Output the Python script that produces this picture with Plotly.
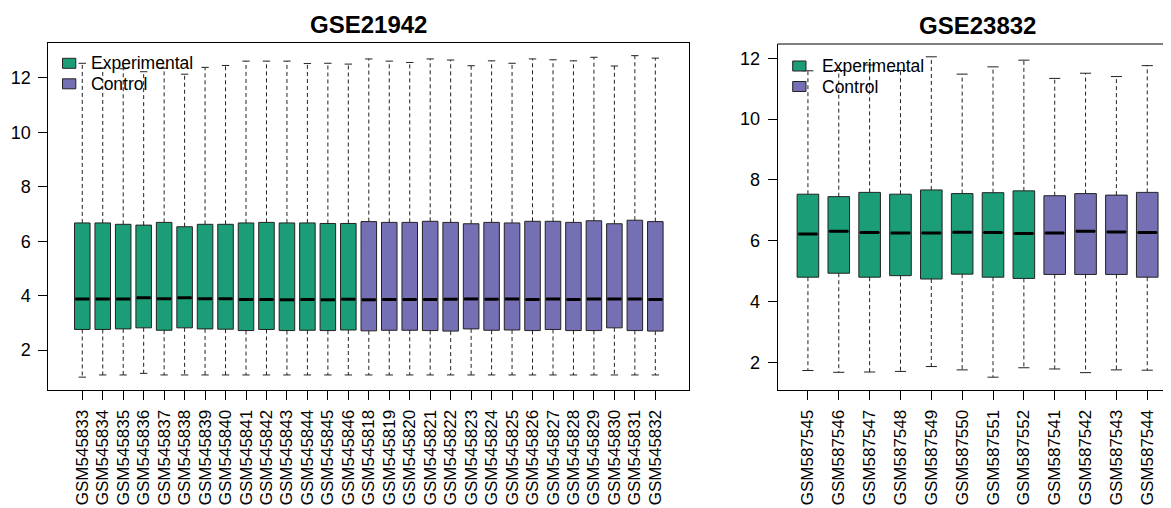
import plotly.graph_objects as go

# The page body has an 8px margin, so the figure is made 8px smaller and every
# pixel position below is given in window coordinates, then shifted.
WIN_W, WIN_H = 1171, 508
OFF = 8
W, H = WIN_W - OFF, WIN_H - OFF

# ---------------- data ----------------
gse1_title = "GSE21942"
gse1_samples = ["GSM545833", "GSM545834", "GSM545835", "GSM545836", "GSM545837",
                "GSM545838", "GSM545839", "GSM545840", "GSM545841", "GSM545842",
                "GSM545843", "GSM545844", "GSM545845", "GSM545846", "GSM545818",
                "GSM545819", "GSM545820", "GSM545821", "GSM545822", "GSM545823",
                "GSM545824", "GSM545825", "GSM545826", "GSM545827", "GSM545828",
                "GSM545829", "GSM545830", "GSM545831", "GSM545832"]
gse1_group = ["Experimental"] * 14 + ["Control"] * 15
gse1_upper = [12.53, 12.36, 12.33, 12.22, 12.35, 12.13, 12.38, 12.45, 12.61, 12.61,
              12.61, 12.52, 12.53, 12.50, 12.69, 12.61, 12.56, 12.69, 12.65, 12.44,
              12.62, 12.53, 12.69, 12.66, 12.62, 12.75, 12.43, 12.81, 12.72]
gse1_q3 = [6.67, 6.67, 6.62, 6.59, 6.69, 6.53, 6.62, 6.62, 6.67, 6.69,
           6.67, 6.67, 6.65, 6.65, 6.72, 6.69, 6.69, 6.73, 6.69, 6.64,
           6.69, 6.67, 6.73, 6.73, 6.69, 6.75, 6.64, 6.77, 6.72]
gse1_median = [3.88, 3.88, 3.88, 3.92, 3.89, 3.92, 3.89, 3.89, 3.86, 3.86,
               3.85, 3.86, 3.85, 3.87, 3.85, 3.86, 3.86, 3.86, 3.87, 3.88,
               3.87, 3.88, 3.86, 3.88, 3.86, 3.88, 3.88, 3.88, 3.86]
gse1_q1 = [2.76, 2.76, 2.78, 2.82, 2.73, 2.82, 2.78, 2.77, 2.72, 2.76,
           2.72, 2.73, 2.72, 2.74, 2.71, 2.73, 2.73, 2.72, 2.70, 2.78,
           2.73, 2.74, 2.72, 2.76, 2.72, 2.72, 2.82, 2.72, 2.70]
gse1_lower = [1.01, 1.09, 1.09, 1.15, 1.09, 1.09, 1.09, 1.09, 1.09, 1.09,
              1.09, 1.09, 1.09, 1.09, 1.09, 1.09, 1.09, 1.09, 1.09, 1.09,
              1.09, 1.09, 1.09, 1.09, 1.09, 1.09, 1.09, 1.09, 1.09]

gse2_title = "GSE23832"
gse2_samples = ["GSM587545", "GSM587546", "GSM587547", "GSM587548", "GSM587549",
                "GSM587550", "GSM587551", "GSM587552", "GSM587541", "GSM587542",
                "GSM587543", "GSM587544"]
gse2_group = ["Experimental"] * 8 + ["Control"] * 4
gse2_upper = [11.59, 11.60, 11.78, 11.60, 12.05, 11.48, 11.72, 11.94, 11.34, 11.51, 11.40, 11.76]
gse2_q3 = [7.53, 7.45, 7.59, 7.53, 7.67, 7.55, 7.58, 7.64, 7.48, 7.55, 7.50, 7.59]
gse2_median = [6.22, 6.31, 6.27, 6.25, 6.25, 6.28, 6.27, 6.24, 6.25, 6.31, 6.29, 6.27]
gse2_q1 = [4.80, 4.93, 4.80, 4.85, 4.74, 4.90, 4.80, 4.76, 4.89, 4.89, 4.89, 4.80]
gse2_lower = [1.73, 1.67, 1.68, 1.70, 1.86, 1.75, 1.51, 1.82, 1.78, 1.66, 1.75, 1.74]

y_ticks = [2, 4, 6, 8, 10, 12]
legend_labels = ["Experimental", "Control"]
group_colors = {"Experimental": "#1B9E77", "Control": "#7570B3"}

FONT = "Liberation Sans, Arial, Helvetica, sans-serif"


def px(x):
    return (x - OFF) / W


def py(y):
    return 1 - (y - OFF) / H


fig = go.Figure()


def add_panel(xa, ya, samples, groups, upper, q3, med, q1, lower, boxw, capw):
    n = len(samples)
    pos = list(range(1, n + 1))
    for g in legend_labels:
        idx = [i for i in range(n) if groups[i] == g]
        if not idx:
            continue
        fig.add_trace(go.Box(
            x=[pos[i] for i in idx],
            q1=[q1[i] for i in idx], median=[med[i] for i in idx], q3=[q3[i] for i in idx],
            lowerfence=[q1[i] for i in idx], upperfence=[q3[i] for i in idx],
            width=boxw, fillcolor=group_colors[g],
            line=dict(color="#222222", width=1),
            whiskerwidth=0, showlegend=False, hoverinfo="skip",
            xaxis=xa, yaxis=ya,
        ))
    # dashed whiskers
    wx, wy = [], []
    for i in range(n):
        wx += [pos[i], pos[i], None, pos[i], pos[i], None]
        wy += [q3[i], upper[i], None, q1[i], lower[i], None]
    fig.add_trace(go.Scatter(x=wx, y=wy, mode="lines",
                             line=dict(color="#222222", width=1, dash="4px,3px"),
                             showlegend=False, hoverinfo="skip", xaxis=xa, yaxis=ya))
    # caps
    cx, cy = [], []
    for i in range(n):
        cx += [pos[i] - capw / 2, pos[i] + capw / 2, None, pos[i] - capw / 2, pos[i] + capw / 2, None]
        cy += [upper[i], upper[i], None, lower[i], lower[i], None]
    fig.add_trace(go.Scatter(x=cx, y=cy, mode="lines",
                             line=dict(color="#222222", width=1),
                             showlegend=False, hoverinfo="skip", xaxis=xa, yaxis=ya))
    # medians
    mx, my = [], []
    for i in range(n):
        mx += [pos[i] - boxw / 2 + 0.04, pos[i] + boxw / 2 - 0.04, None]
        my += [med[i], med[i], None]
    fig.add_trace(go.Scatter(x=mx, y=my, mode="lines",
                             line=dict(color="black", width=3),
                             showlegend=False, hoverinfo="skip", xaxis=xa, yaxis=ya))


add_panel("x", "y", gse1_samples, gse1_group, gse1_upper, gse1_q3, gse1_median,
          gse1_q1, gse1_lower, 0.76, 0.36)
add_panel("x2", "y2", gse2_samples, gse2_group, gse2_upper, gse2_q3, gse2_median,
          gse2_q1, gse2_lower, 0.70, 0.36)


def yrange(lo_list, hi_list):
    lo, hi = min(lo_list), max(hi_list)
    pad = 0.04 * (hi - lo)
    return [lo - pad, hi + pad]


n1 = len(gse1_samples)
n2 = len(gse2_samples)

axis_common = dict(showgrid=False, zeroline=False, showline=True, linecolor="black",
                   linewidth=1, ticks="outside", ticklen=9, tickcolor="black",
                   tickwidth=1)

fig.update_layout(
    width=W, height=H,
    margin=dict(l=0, r=0, t=0, b=0),
    paper_bgcolor="white", plot_bgcolor="white",
    font=dict(family=FONT, color="black"),
    showlegend=False,
    boxmode="overlay",
    xaxis=dict(domain=[px(48.3), px(689.3)],
               range=[0.5 - 0.04 * n1, n1 + 0.5 + 0.04 * n1],
               tickvals=list(range(1, n1 + 1)), ticktext=gse1_samples,
               tickangle=-90, tickfont=dict(size=17, family=FONT),
               mirror=True, anchor="y", ticklabelstandoff=3, **axis_common),
    yaxis=dict(domain=[py(390), py(42.8)],
               range=yrange(gse1_lower, gse1_upper),
               tickvals=y_ticks, tickfont=dict(size=18, family=FONT),
               mirror=True, anchor="x", ticklabelstandoff=4, **axis_common),
    xaxis2=dict(domain=[px(777.7), 1.0],
                range=[0.5 - 0.04 * n2, 12.77],
                tickvals=list(range(1, n2 + 1)), ticktext=gse2_samples,
                tickangle=-90, tickfont=dict(size=17, family=FONT),
                anchor="y2", ticklabelstandoff=3, **axis_common),
    yaxis2=dict(domain=[py(390), py(44)],
                range=yrange(gse2_lower, gse2_upper),
                tickvals=y_ticks, tickfont=dict(size=18, family=FONT),
                anchor="x2", ticklabelstandoff=4, **axis_common),
)

# top frame line of right panel (its right edge lies outside the picture)
fig.add_shape(type="line", xref="x2 domain", yref="y2 domain", x0=0, x1=1, y0=1, y1=1,
              line=dict(color="black", width=1))

# titles
fig.add_annotation(text="<b>" + gse1_title + "</b>", x=px((48.3 + 689.3) / 2), y=py(24),
                   xref="paper", yref="paper", showarrow=False, xanchor="center",
                   yanchor="middle", font=dict(size=24, family=FONT, color="black"))
fig.add_annotation(text="<b>" + gse2_title + "</b>", x=px(977.5), y=py(25),
                   xref="paper", yref="paper", showarrow=False, xanchor="center",
                   yanchor="middle", font=dict(size=24, family=FONT, color="black"))

# legends (R style, no border)
legend_pos = [
    (62.5, 63.3, 89),   # left panel: square left x, first row center y, text x
    (792.7, 66.0, 819.7),
]
for sx, sy, tx in legend_pos:
    for k, lab in enumerate(legend_labels):
        cy = sy + k * 20.5
        fig.add_shape(type="rect", xref="paper", yref="paper",
                      x0=px(sx), x1=px(sx + 13.3), y0=py(cy - 5), y1=py(cy + 5),
                      fillcolor=group_colors[lab], line=dict(color="#222222", width=1))
        fig.add_annotation(text=lab, x=px(tx), y=py(cy), xref="paper", yref="paper",
                           showarrow=False, xanchor="left", yanchor="middle",
                           font=dict(size=17.5, family=FONT, color="black"))

fig.write_html("out.html")
